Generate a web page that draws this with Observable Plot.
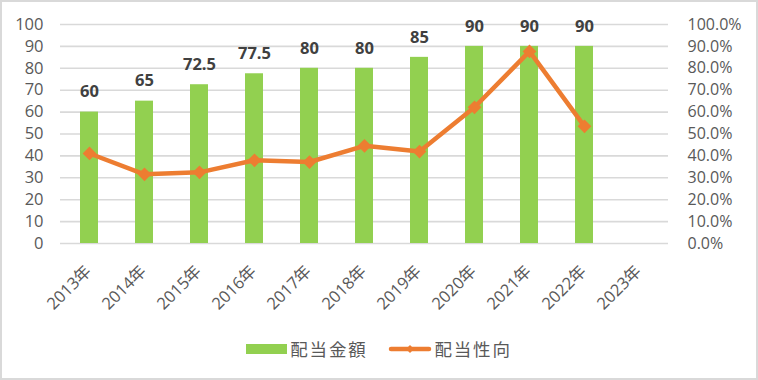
<!DOCTYPE html>
<html>
<head>
<meta charset="utf-8">
<script src="https://cdn.jsdelivr.net/npm/d3@7"></script>
<script src="https://cdn.jsdelivr.net/npm/@observablehq/plot@0.6"></script>
<style>
  html, body { margin: 0; padding: 0; background: #fff; }
  #wrap { position: relative; width: 758px; height: 380px; overflow: hidden; background: #fff;
          font-family: "Open Sans", "Noto Sans CJK JP", sans-serif; }
  #frame { position: absolute; left: 0; top: 0; width: 758px; height: 380px; box-sizing: border-box;
           border: 2px solid #d9d9d9; pointer-events: none; }
  #chart { position: absolute; left: 0; top: 0; }
  #legend { position: absolute; left: 0; top: 336px; width: 758px; display: flex; justify-content: center;
            align-items: center; color: #595959; font-size: 17.5px; letter-spacing: 1.8px;
            font-family: "Noto Sans CJK JP", sans-serif; }
  .item { display: flex; align-items: center; }
  .item svg { margin-right: 3px; }
</style>
</head>
<body>
<div id="wrap">
  <div id="chart"></div>
  <div id="legend">
    <div class="item" style="margin-right:20px">
      <svg width="41" height="12"><rect x="0" y="1" width="41" height="10" fill="#92D050"></rect></svg>
      <span id="lg1"></span>
    </div>
    <div class="item">
      <svg width="44" height="14"><line x1="3" y1="7" x2="41" y2="7" stroke="#ED7D31" stroke-width="4.5" stroke-linecap="round"></line><path d="M22,3 L26,7 L22,11 L18,7Z" fill="#ED7D31"></path></svg>
      <span id="lg2"></span>
    </div>
  </div>
  <div id="frame"></div>
</div>
<script>
// ---- data ----
const years = ["2013年","2014年","2015年","2016年","2017年","2018年","2019年","2020年","2021年","2022年","2023年"];
const dividendYears = ["2013年","2014年","2015年","2016年","2017年","2018年","2019年","2020年","2021年","2022年"];
const dividend = [60, 65, 72.5, 77.5, 80, 80, 85, 90, 90, 90];       // 配当金額
const payoutRatio = [41.1, 31.6, 32.5, 38.0, 37.2, 44.6, 42.0, 62.2, 87.7, 53.5]; // 配当性向 (%)
const leftTicks = [0,10,20,30,40,50,60,70,80,90,100];
const rightTicks = [0,10,20,30,40,50,60,70,80,90,100];
const seriesNames = ["配当金額", "配当性向"];

document.getElementById("lg1").textContent = seriesNames[0];
document.getElementById("lg2").textContent = seriesNames[1];

const rows = dividendYears.map((y, i) => ({year: y, dividend: dividend[i], payout: payoutRatio[i]}));

const chart = Plot.plot({
  width: 758,
  height: 325,
  marginLeft: 60,
  marginRight: 90,
  marginTop: 24,
  marginBottom: 82,
  style: {fontFamily: '"Open Sans", "Noto Sans CJK JP", sans-serif', background: "transparent"},
  x: {domain: years, paddingInner: 0.67, paddingOuter: 0.335, axis: null},
  y: {domain: [0, 100], axis: null},
  marks: [
    Plot.gridY(leftTicks, {stroke: "#d9d9d9", strokeOpacity: 1, strokeWidth: 1.6}),
    Plot.axisY({anchor: "left", ticks: leftTicks, tickSize: 0, tickPadding: 17, fontSize: 16.5, color: "#595959", label: null}),
    Plot.axisY({anchor: "right", ticks: rightTicks, tickSize: 0, tickPadding: 19, fontSize: 16, color: "#595959", label: null,
                tickFormat: d => d.toFixed(1) + "%"}),
    Plot.barY(rows, {x: "year", y: "dividend", fill: "#92D050"}),
    Plot.text(rows, {x: "year", y: "dividend", text: d => String(d.dividend), dy: -20, lineAnchor: "middle",
                     fontWeight: "bold", fontSize: 16.5, fill: "#404040"}),
    Plot.line(rows, {x: "year", y: "payout", stroke: "#ED7D31", strokeWidth: 4.5, strokeLinejoin: "round"}),
    Plot.dot(rows, {x: "year", y: "payout", symbol: "diamond2", r: 6.2, fill: "#ED7D31", stroke: "none"}),
    Plot.text(years, {x: d => d, frameAnchor: "bottom", text: d => d, rotate: -45, textAnchor: "end",
                      lineAnchor: "middle", dy: 25, dx: -1, fontSize: 16.5, fill: "#595959"})
  ]
});
document.getElementById("chart").appendChild(chart);
</script>
</body>
</html>
